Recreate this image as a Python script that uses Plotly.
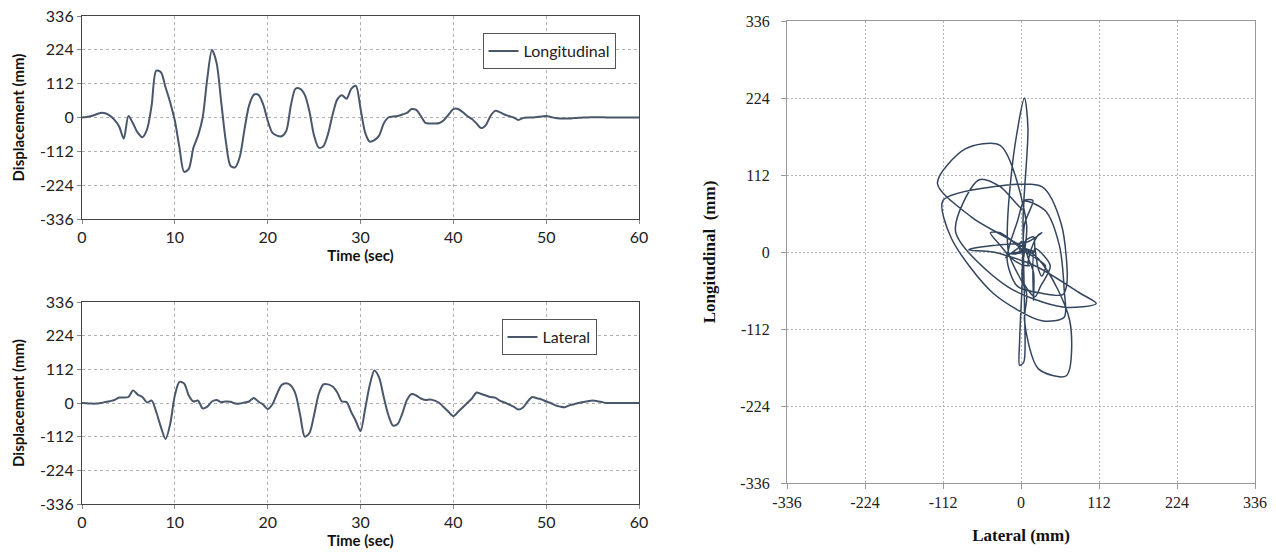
import plotly.graph_objects as go

# ---------------- data ----------------
time_sec = [i * 0.5 for i in range(121)]

longitudinal_mm = [
    0, 2, 5, 10, 15, 14, 6, -8, -30, -70,
    5, -20, -50, -65, -40, 40, 155, 150, 100, 50,
    -10, -100, -180, -170, -100, -60, 0, 130, 224, 180,
    50, -80, -160, -165, -130, -40, 40, 75, 75, 45,
    -10, -50, -60, -62, -45, 40, 95, 95, 75, 20,
    -60, -100, -95, -55, 10, 60, 74, 62, 95, 105,
    30, -50, -80, -75, -60, -20, 0, 3, 5, 10,
    15, 28, 25, 5, -18, -20, -20, -18, -8, 10,
    28, 28, 18, 5, -5, -20, -35, -25, 5, 22,
    18, 10, 5, 0, -8, -2, 0, 0, 2, 3,
    5, 2, -2, -3, -3, -3, -2, -1, 0, 0,
    1, 1, 1, 0, 0, 0, 0, 0, 0, 0,
    0,
]

lateral_mm = [
    0, -1, -2, -2, 0, 3, 6, 10, 18, 18,
    20, 42, 28, 20, 2, 8, -30, -80, -120, -70,
    25, 70, 65, 25, 5, 8, -18, -12, 5, 10,
    3, 5, 4, -2, -2, 2, 5, 17, 5, -5,
    -20, -5, 30, 60, 66, 58, 30, -40, -112, -100,
    -40, 30, 62, 62, 55, 35, 5, 3, -30, -60,
    -94, -20, 60, 108, 85, 20, -40, -75, -70, -35,
    10, 30, 25, 15, 10, 12, 8, 0, -15, -30,
    -44, -30, -15, 0, 15, 35, 30, 25, 20, 18,
    8, 2, -5, -12, -22, -15, 5, 20, 16, 12,
    5, 0, -8, -12, -14, -8, -4, 0, 3, 6,
    8, 6, 3, 0, 0, 0, 0, 0, 0, 0,
    0,
]

time_ticks = [0, 10, 20, 30, 40, 50, 60]
disp_ticks = [-336, -224, -112, 0, 112, 224, 336]
disp_tick_text = ["-336", "-224", "-112", "0", "112", "224", "336"]

# ---------------- layout helpers ----------------
W, H = 1276, 554
def px_x(p):
    return p / W
def px_y(p):
    return 1 - p / H

LINE_L = "#4a576b"
LINE_R = "#34455e"
SANS = "Lato, 'Open Sans', sans-serif"
SERIF = "'Liberation Serif', 'DejaVu Serif', serif"

fig = go.Figure()

fig.add_trace(go.Scatter(
    x=time_sec, y=longitudinal_mm, mode="lines", name="Longitudinal",
    line=dict(color=LINE_L, width=2, shape="spline", smoothing=0.8),
    xaxis="x", yaxis="y", legend="legend"))

fig.add_trace(go.Scatter(
    x=time_sec, y=lateral_mm, mode="lines", name="Lateral",
    line=dict(color=LINE_L, width=2, shape="spline", smoothing=0.8),
    xaxis="x2", yaxis="y2", legend="legend2"))

fig.add_trace(go.Scatter(
    x=lateral_mm, y=longitudinal_mm, mode="lines", name="Orbit",
    line=dict(color=LINE_R, width=1.5, shape="spline", smoothing=0.8),
    xaxis="x3", yaxis="y3", showlegend=False))

left_x = dict(
    range=[0, 60], tickvals=time_ticks, showgrid=True, gridcolor="#b0b0b0",
    griddash="3px,3px", gridwidth=1, zeroline=False, showline=True,
    linecolor="#444", linewidth=1.2, mirror=True, ticks="outside", ticklen=4,
    tickcolor="#888", tickfont=dict(family=SANS, size=16, color="#222"),
    automargin=False,
    title=dict(text="<b>Time (sec)</b>", font=dict(family=SANS, size=15, color="#111"), standoff=3),
)
left_y = dict(
    range=[-336, 336], tickvals=disp_ticks, ticktext=disp_tick_text, showgrid=True,
    gridcolor="#b0b0b0",
    griddash="3px,3px", gridwidth=1, zeroline=False, showline=True,
    linecolor="#444", linewidth=1.2, mirror=True, ticks="outside", ticklen=4,
    tickcolor="#888", tickfont=dict(family=SANS, size=16, color="#222"),
    automargin=False,
    title=dict(text="<b>Displacement (mm)</b>", font=dict(family=SANS, size=15, color="#111"), standoff=11),
)

right_common = dict(
    range=[-336, 336], tickvals=disp_ticks, ticktext=disp_tick_text, showgrid=True,
    gridcolor="#b5b5b5",
    griddash="2px,2px", gridwidth=1, zeroline=False, showline=True,
    linecolor="#999", linewidth=1.2, mirror=True, ticks="outside", ticklen=5,
    tickcolor="#999", tickfont=dict(family=SERIF, size=16, color="#222"),
    automargin=False,
)

fig.update_layout(
    width=W, height=H,
    margin=dict(l=0, r=0, t=0, b=0, autoexpand=False),
    paper_bgcolor="white", plot_bgcolor="white",
    xaxis=dict(domain=[px_x(82), px_x(639)], anchor="y", **left_x),
    yaxis=dict(domain=[px_y(219), px_y(16)], anchor="x", **left_y),
    xaxis2=dict(domain=[px_x(82), px_x(639)], anchor="y2", **left_x),
    yaxis2=dict(domain=[px_y(504), px_y(302)], anchor="x2", **left_y),
    xaxis3=dict(domain=[px_x(787), px_x(1255)], anchor="y3",
                title=dict(text="<b>Lateral (mm)</b>", font=dict(family=SERIF, size=17, color="#111"), standoff=18),
                **right_common),
    yaxis3=dict(domain=[px_y(483), px_y(21)], anchor="x3", ticklabelstandoff=8,
                title=dict(text="<b>Longitudinal  (mm)</b>", font=dict(family=SERIF, size=17, color="#111"), standoff=20),
                **right_common),
    legend=dict(x=px_x(549), y=px_y(33), xanchor="center", yanchor="top",
                bgcolor="white", bordercolor="#555", borderwidth=1,
                font=dict(family=SANS, size=16, color="#222")),
    legend2=dict(x=px_x(549), y=px_y(319), xanchor="center", yanchor="top",
                 bgcolor="white", bordercolor="#555", borderwidth=1,
                 font=dict(family=SANS, size=16, color="#222")),
    showlegend=True,
)

fig.write_html("out.html")
